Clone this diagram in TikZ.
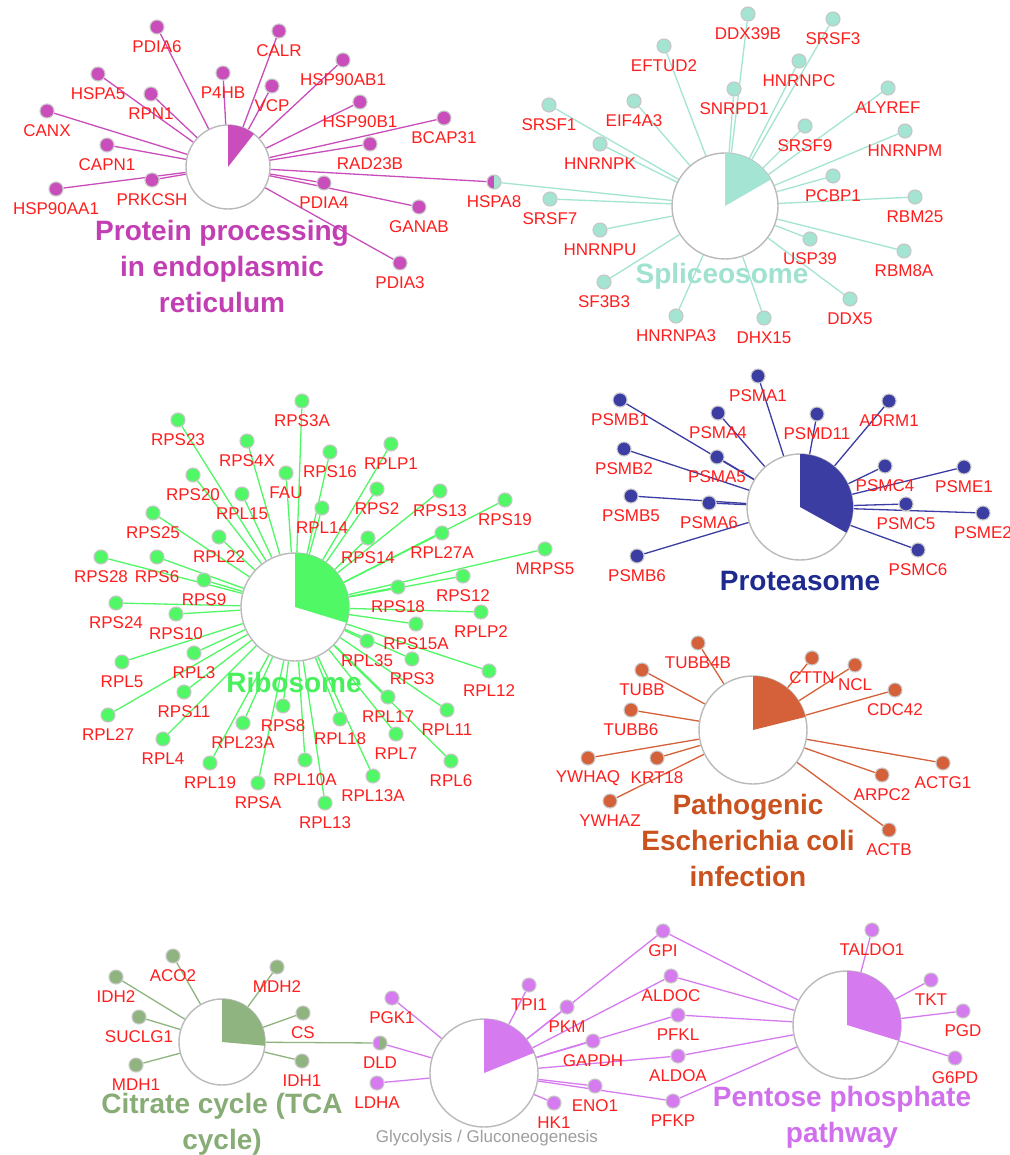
\documentclass[tikz,border=0pt]{standalone}
\usepackage{fontspec}
\setmainfont{Liberation Sans}
\usetikzlibrary{backgrounds}
\definecolor{cP}{HTML}{C94DBA}
\definecolor{cS}{HTML}{A3E4D3}
\definecolor{cR}{HTML}{50F865}
\definecolor{cB}{HTML}{3B3DA2}
\definecolor{cE}{HTML}{D5613A}
\definecolor{cT}{HTML}{8FB47F}
\definecolor{cG}{HTML}{D67BEF}
\definecolor{labred}{HTML}{FF1E1E}
\definecolor{tP}{HTML}{C23EB3}
\definecolor{tS}{HTML}{9FE2CF}
\definecolor{tR}{HTML}{48F05C}
\definecolor{tB}{HTML}{1E2A8E}
\definecolor{tE}{HTML}{C9521F}
\definecolor{tT}{HTML}{88AC75}
\definecolor{tG}{HTML}{D070EC}
\tikzset{
  gdot/.style={circle, minimum size=14pt, inner sep=0pt, draw=black!22, line width=1.1pt},
  glab/.style={text=labred, font=\fontsize{17}{20}\selectfont, inner sep=0pt},
  catnode/.style={circle, minimum size=#1, inner sep=0pt, draw=black!27, fill=white, line width=1.4pt},
  edge/.style={line width=1.3pt},
  ttl/.style={font=\fontsize{28}{36}\selectfont\bfseries, align=center, inner sep=0pt},
}
\newcommand\gn[4]{\node[gdot,fill=#4] (#1) at (#2,#3) {}; \node[glab] (#1-l) at (#2,#3+20) {#1};}
\newcommand\piewedge[4]{\fill[#4] (#1.center) -- ++(90:#2pt) arc[start angle=90,end angle=#3,radius=#2pt] -- cycle;}
\begin{document}
\begin{tikzpicture}[x=1pt,y=-1pt]
\useasboundingbox (0,0) rectangle (1009,1155);
% ---------- category nodes ----------
\node[catnode=84pt]  (prot) at (228,167) {};
\node[catnode=106pt] (spl)  at (725,206) {};
\node[catnode=108pt] (rib)  at (295,607) {};
\node[catnode=106pt] (psm)  at (800,507) {};
\node[catnode=108pt] (eco)  at (753,730) {};
\node[catnode=86pt]  (tca)  at (222,1042) {};
\node[catnode=108pt] (gly)  at (484,1073) {};
\node[catnode=108pt] (ppp)  at (847,1025) {};
\piewedge{prot}{42}{52}{cP}
\piewedge{spl}{53}{30}{cS}
\piewedge{rib}{54}{-17}{cR}
\piewedge{psm}{53}{-29}{cB}
\piewedge{eco}{54}{14}{cE}
\piewedge{tca}{43}{-5}{cT}
\piewedge{gly}{54}{22}{cG}
\piewedge{ppp}{54}{-17}{cG}
% ---------- titles ----------
\node[ttl,text=tP] (tprot) at (222,266) {Protein processing\\in endoplasmic\\reticulum};
\node[ttl,text=tS] (tspl) at (722,276) {Spliceosome};
\node[ttl,text=tR] (trib) at (294,682) {Ribosome};
\node[ttl,text=tB] (tpsm) at (800,581) {Proteasome};
\node[ttl,text=tE] (teco) at (748,840) {Pathogenic\\Escherichia coli\\infection};
\node[ttl,text=tT] (ttca) at (222,1124) {Citrate cycle (TCA\\cycle)};
\node[ttl,text=tG] (tppp) at (842,1117) {Pentose phosphate\\pathway};
\node[inner sep=0pt,text=black!38,font=\fontsize{17}{20}\selectfont] (tgly) at (487,1138) {Glycolysis / Gluconeogenesis};
% ---------- protein processing ----------
\gn{PDIA6}{157}{27}{cP}
\gn{CALR}{279}{31}{cP}
\gn{HSPA5}{98}{74}{cP}
\gn{RPN1}{151}{94}{cP}
\gn{P4HB}{223}{73}{cP}
\gn{VCP}{272}{86}{cP}
\gn{HSP90AB1}{343}{60}{cP}
\gn{HSP90B1}{360}{102}{cP}
\gn{BCAP31}{444}{118}{cP}
\gn{RAD23B}{370}{144}{cP}
\gn{CANX}{47}{111}{cP}
\gn{CAPN1}{107}{145}{cP}
\gn{PRKCSH}{152}{180}{cP}
\gn{HSP90AA1}{56}{189}{cP}
\gn{PDIA4}{324}{183}{cP}
\gn{GANAB}{419}{207}{cP}
\gn{PDIA3}{400}{263}{cP}
\node[gdot,path picture={\fill[cP] (path picture bounding box.south west) rectangle (path picture bounding box.north);
  \fill[cS] (path picture bounding box.south) rectangle (path picture bounding box.north east);}] (HSPA8) at (494,182) {};
\node[glab] (HSPA8-l) at (494,202) {HSPA8};
% ---------- spliceosome ----------
\gn{DDX39B}{748}{14}{cS}
\gn{SRSF3}{833}{19}{cS}
\gn{EFTUD2}{664}{46}{cS}
\gn{HNRNPC}{799}{61}{cS}
\gn{SNRPD1}{734}{89}{cS}
\gn{ALYREF}{888}{88}{cS}
\gn{SRSF9}{805}{126}{cS}
\gn{HNRNPM}{905}{131}{cS}
\gn{PCBP1}{833}{176}{cS}
\gn{RBM25}{915}{197}{cS}
\gn{USP39}{810}{239}{cS}
\gn{RBM8A}{904}{251}{cS}
\gn{DDX5}{850}{299}{cS}
\gn{DHX15}{764}{318}{cS}
\gn{HNRNPA3}{676}{316}{cS}
\gn{EIF4A3}{634}{101}{cS}
\gn{SRSF1}{549}{105}{cS}
\gn{HNRNPK}{600}{144}{cS}
\gn{SRSF7}{550}{199}{cS}
\gn{HNRNPU}{600}{230}{cS}
\gn{SF3B3}{604}{282}{cS}
% ---------- ribosome ----------
\gn{RPS3A}{302}{401}{cR}
\gn{RPS23}{178}{420}{cR}
\gn{RPS4X}{247}{441}{cR}
\gn{FAU}{286}{473}{cR}
\gn{RPS16}{330}{452}{cR}
\gn{RPS20}{193}{475}{cR}
\gn{RPL15}{242}{494}{cR}
\gn{RPL14}{322}{508}{cR}
\gn{RPS25}{153}{513}{cR}
\gn{RPL22}{219}{537}{cR}
\gn{RPS28}{101}{557}{cR}
\gn{RPS6}{157}{557}{cR}
\gn{RPS9}{204}{580}{cR}
\gn{RPS24}{116}{603}{cR}
\gn{RPS10}{176}{614}{cR}
\gn{RPL5}{122}{662}{cR}
\gn{RPL3}{194}{653}{cR}
\gn{RPS11}{184}{692}{cR}
\gn{RPL27}{108}{715}{cR}
\gn{RPL4}{163}{739}{cR}
\gn{RPL23A}{243}{723}{cR}
\gn{RPS8}{283}{706}{cR}
\gn{RPL19}{210}{763}{cR}
\gn{RPSA}{258}{783}{cR}
\gn{RPL10A}{305}{760}{cR}
\gn{RPL13}{325}{803}{cR}
\gn{RPL18}{340}{719}{cR}
\gn{RPL13A}{373}{776}{cR}
\gn{RPL7}{396}{734}{cR}
\gn{RPL17}{388}{697}{cR}
\gn{RPL6}{451}{761}{cR}
\gn{RPL11}{447}{710}{cR}
\gn{RPS3}{412}{659}{cR}
\gn{RPL35}{367}{641}{cR}
\gn{RPS15A}{416}{624}{cR}
\gn{RPL12}{489}{671}{cR}
\gn{RPLP2}{481}{612}{cR}
\gn{RPS18}{398}{587}{cR}
\gn{RPS12}{463}{576}{cR}
\gn{MRPS5}{545}{549}{cR}
\gn{RPL27A}{442}{533}{cR}
\gn{RPS14}{368}{538}{cR}
\gn{RPS19}{505}{500}{cR}
\gn{RPS13}{440}{491}{cR}
\gn{RPS2}{377}{489}{cR}
\gn{RPLP1}{391}{444}{cR}
% ---------- proteasome ----------
\gn{PSMA1}{758}{376}{cB}
\gn{PSMB1}{620}{400}{cB}
\gn{ADRM1}{889}{401}{cB}
\gn{PSMA4}{718}{413}{cB}
\gn{PSMD11}{817}{414}{cB}
\gn{PSMB2}{624}{449}{cB}
\gn{PSMA5}{717}{457}{cB}
\gn{PSMC4}{885}{466}{cB}
\gn{PSME1}{964}{467}{cB}
\gn{PSMB5}{631}{496}{cB}
\gn{PSMA6}{709}{503}{cB}
\gn{PSMC5}{906}{504}{cB}
\gn{PSME2}{983}{513}{cB}
\gn{PSMB6}{637}{556}{cB}
\gn{PSMC6}{918}{550}{cB}
% ---------- E. coli ----------
\gn{TUBB4B}{698}{643}{cE}
\gn{CTTN}{812}{658}{cE}
\gn{NCL}{855}{665}{cE}
\gn{TUBB}{642}{670}{cE}
\gn{CDC42}{895}{690}{cE}
\gn{TUBB6}{631}{710}{cE}
\gn{YWHAQ}{588}{758}{cE}
\gn{KRT18}{657}{758}{cE}
\gn{ACTG1}{943}{763}{cE}
\gn{ARPC2}{882}{775}{cE}
\gn{YWHAZ}{610}{801}{cE}
\gn{ACTB}{889}{830}{cE}
% ---------- citrate cycle ----------
\gn{ACO2}{173}{956}{cT}
\gn{IDH2}{116}{977}{cT}
\gn{MDH2}{277}{967}{cT}
\gn{SUCLG1}{139}{1017}{cT}
\gn{CS}{303}{1013}{cT}
\gn{MDH1}{136}{1065}{cT}
\gn{IDH1}{302}{1061}{cT}
\node[gdot,path picture={\fill[cG] (path picture bounding box.south west) rectangle (path picture bounding box.north);
  \fill[cT] (path picture bounding box.south) rectangle (path picture bounding box.north east);}] (DLD) at (380,1043) {};
\node[glab] (DLD-l) at (380,1063) {DLD};
% ---------- glycolysis ----------
\gn{PGK1}{392}{998}{cG}
\gn{TPI1}{529}{985}{cG}
\gn{PKM}{567}{1007}{cG}
\gn{GAPDH}{593}{1041}{cG}
\gn{LDHA}{377}{1083}{cG}
\gn{ENO1}{595}{1086}{cG}
\gn{HK1}{554}{1103}{cG}
\gn{GPI}{663}{931}{cG}
\gn{ALDOC}{671}{976}{cG}
\gn{PFKL}{678}{1015}{cG}
\gn{ALDOA}{678}{1056}{cG}
\gn{PFKP}{673}{1101}{cG}
% ---------- pentose phosphate ----------
\gn{TALDO1}{872}{930}{cG}
\gn{TKT}{931}{980}{cG}
\gn{PGD}{963}{1011}{cG}
\gn{G6PD}{955}{1058}{cG}
% ---------- edges ----------
\begin{scope}[on background layer]
\fill[white] (0,0) rectangle (1009,1155);
\foreach \g in {PDIA6,CALR,HSPA5,RPN1,P4HB,VCP,HSP90AB1,HSP90B1,BCAP31,RAD23B,CANX,CAPN1,PRKCSH,HSP90AA1,PDIA4,GANAB,PDIA3,HSPA8}
  \draw[edge,cP] (\g) -- (prot);
\foreach \g in {DDX39B,SRSF3,EFTUD2,HNRNPC,SNRPD1,ALYREF,SRSF9,HNRNPM,PCBP1,RBM25,USP39,RBM8A,DDX5,DHX15,HNRNPA3,EIF4A3,SRSF1,HNRNPK,SRSF7,HNRNPU,SF3B3,HSPA8}
  \draw[edge,cS] (\g) -- (spl);
\foreach \g in {RPS3A,RPS23,RPS4X,FAU,RPS16,RPS20,RPL15,RPL14,RPS25,RPL22,RPS28,RPS6,RPS9,RPS24,RPS10,RPL5,RPL3,RPS11,RPL27,RPL4,RPL23A,RPS8,RPL19,RPSA,RPL10A,RPL13,RPL18,RPL13A,RPL7,RPL17,RPL6,RPL11,RPS3,RPL35,RPS15A,RPL12,RPLP2,RPS18,RPS12,MRPS5,RPL27A,RPS14,RPS19,RPS13,RPS2,RPLP1}
  \draw[edge,cR] (\g) -- (rib);
\foreach \g in {PSMA1,PSMB1,ADRM1,PSMA4,PSMD11,PSMB2,PSMA5,PSMC4,PSME1,PSMB5,PSMA6,PSMC5,PSME2,PSMB6,PSMC6}
  \draw[edge,cB] (\g) -- (psm);
\foreach \g in {TUBB4B,CTTN,NCL,TUBB,CDC42,TUBB6,YWHAQ,KRT18,ACTG1,ARPC2,YWHAZ,ACTB}
  \draw[edge,cE] (\g) -- (eco);
\foreach \g in {ACO2,IDH2,MDH2,SUCLG1,CS,MDH1,IDH1,DLD}
  \draw[edge,cT] (\g) -- (tca);
\foreach \g in {PGK1,TPI1,PKM,GAPDH,LDHA,ENO1,HK1,GPI,ALDOC,PFKL,ALDOA,PFKP,DLD}
  \draw[edge,cG] (\g) -- (gly);
\foreach \g in {TALDO1,TKT,PGD,G6PD,GPI,ALDOC,PFKL,ALDOA,PFKP}
  \draw[edge,cG] (\g) -- (ppp);
\end{scope}
\end{tikzpicture}
\end{document}
